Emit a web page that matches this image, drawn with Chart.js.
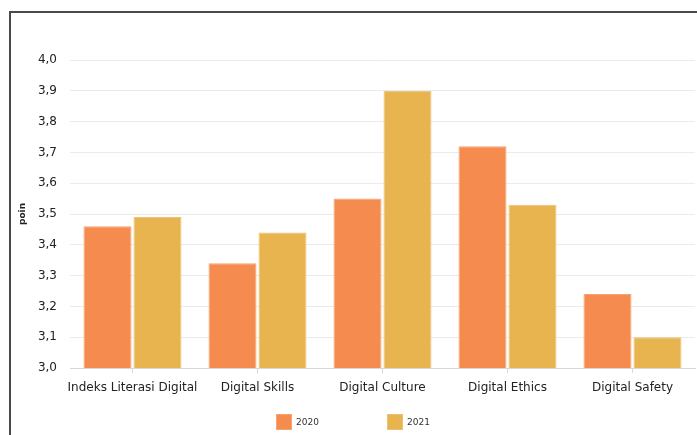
<!DOCTYPE html>
<html>
<head>
<meta charset="utf-8">
<script src="https://cdn.jsdelivr.net/npm/chart.js@4"></script>
<style>
  html, body { margin: 0; padding: 0; background: #fff; overflow: hidden; }
  #wrap { position: relative; width: 697px; height: 435px; }
  #frame { position: absolute; left: 9px; top: 11px; width: 800px; height: 500px; border: 2px solid #4a4a4a; box-sizing: border-box; }
  #chart { position: absolute; left: 0; top: 0; }
  .leg { position: absolute; top: 414px; font: 9px "DejaVu Sans", Verdana, sans-serif; color: #333; }
  .leg span.box { position: absolute; left: 0; top: 0; width: 16px; height: 16px; box-sizing: border-box; }
  .leg span.txt { position: absolute; left: 20px; top: 3px; white-space: nowrap; }
</style>
</head>
<body>
<div id="wrap">
  <div id="frame"></div>
  <canvas id="chart" width="697" height="435"></canvas>
  <div id="legend"></div>
</div>
<script>
// Dữ liệu biểu đồ
const categories = ['Indeks Literasi Digital', 'Digital Skills', 'Digital Culture', 'Digital Ethics', 'Digital Safety'];
const years = ['2020', '2021'];
const values2020 = [3.46, 3.34, 3.55, 3.72, 3.24];
const values2021 = [3.49, 3.44, 3.90, 3.53, 3.10];
const yTicks = [3.0, 3.1, 3.2, 3.3, 3.4, 3.5, 3.6, 3.7, 3.8, 3.9, 4.0];

const fillColors = ['#f58b4f', '#e8b450'];
const edgeColors = ['#f6a273', '#ecc173'];

const ctx = document.getElementById('chart').getContext('2d');
Chart.defaults.font.family = '"DejaVu Sans", Verdana, sans-serif';
Chart.defaults.color = '#333';

const chart = new Chart(ctx, {
    type: 'bar',
    data: {
        labels: categories,
        datasets: [values2020, values2021].map((vals, i) => ({
            label: years[i],
            data: vals,
            backgroundColor: fillColors[i],
            borderColor: edgeColors[i],
            borderWidth: 1,
            categoryPercentage: 0.8,
            barPercentage: 0.96
        }))
    },
    options: {
        responsive: false,
        animation: false,
        layout: { padding: { top: 60, right: 2, bottom: 37, left: 0 } },
        plugins: {
            legend: { display: false },
            tooltip: { enabled: false }
        },
        scales: {
            x: {
                offset: true,
                grid: { offset: false, drawOnChartArea: false, tickLength: 5, color: '#d8d8d8' },
                border: { color: '#d8d8d8' },
                ticks: { font: { size: 12 }, padding: 8, color: '#222', maxRotation: 0, autoSkip: false },
                afterFit: s => { s.height = 30; }
            },
            y: {
                min: 3.0,
                max: 4.0,
                afterBuildTicks: s => { s.ticks = yTicks.map(v => ({ value: v })); },
                grid: { drawTicks: false, color: '#ebebeb' },
                border: { display: false },
                ticks: {
                    font: { size: 12 },
                    padding: 13,
                    color: '#222',
                    callback: v => v.toFixed(1).replace('.', ',')
                },
                title: {
                    display: true,
                    text: 'poin',
                    font: { size: 9, weight: 'bold' },
                    color: '#222',
                    padding: { top: 17, bottom: 0 }
                },
                afterFit: s => { s.width = 70; }
            }
        }
    }
});

// Chú thích (legend) dạng HTML
const legendPos = [276, 387];
const legendEl = document.getElementById('legend');
years.forEach((y, i) => {
    const item = document.createElement('div');
    item.className = 'leg';
    item.style.left = legendPos[i] + 'px';
    item.innerHTML = '<span class="box" style="background:' + fillColors[i] + ';border:1px solid ' + edgeColors[i] + '"></span><span class="txt">' + y + '</span>';
    legendEl.appendChild(item);
});
</script>
</body>
</html>
